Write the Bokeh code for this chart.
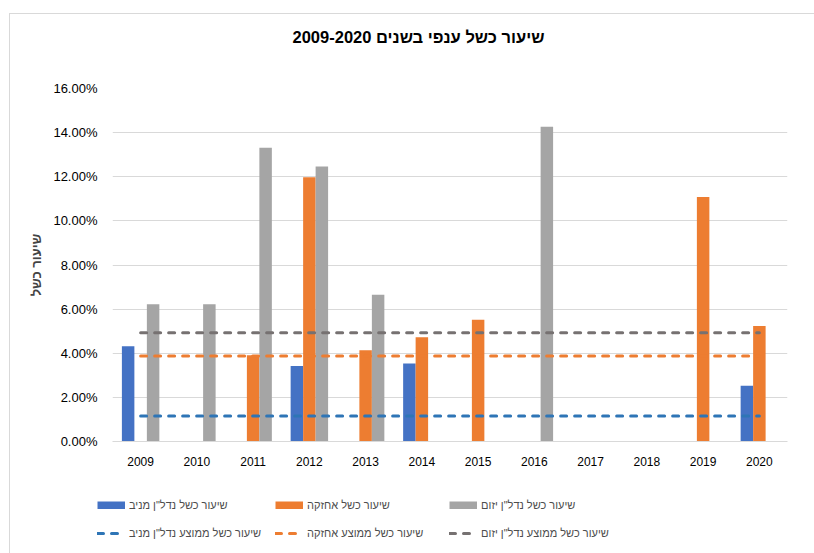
from bokeh.plotting import figure
from bokeh.layouts import column
from bokeh.models import (ColumnDataSource, Range1d, FixedTicker, Legend, LegendItem,
                          Label, PrintfTickFormatter)
from bokeh.embed import file_html
from bokeh.resources import INLINE

# Failure rates by sector, percent
years = ["2009", "2010", "2011", "2012", "2013", "2014",
         "2015", "2016", "2017", "2018", "2019", "2020"]
income_rate = [4.32, None, None, 3.42, None, 3.54, None, None, None, None, None, 2.53]
holding_rate = [None, None, 3.91, 11.98, 4.14, 4.73, 5.52, None, None, None, 11.08, 5.24]
initiated_rate = [6.22, 6.22, 13.32, 12.47, 6.65, None, None, 14.27, None, None, None, None]

avg_income = 1.16
avg_holding = 3.87
avg_initiated = 4.93

y_ticks = [0, 2, 4, 6, 8, 10, 12, 14, 16]

series_names = ['שיעור כשל נדל"ן מניב', 'שיעור כשל אחזקה', 'שיעור כשל נדל"ן יזום']
avg_names = ['שיעור כשל ממוצע נדל"ן מניב', 'שיעור כשל ממוצע אחזקה', 'שיעור כשל ממוצע נדל"ן יזום']
title_text = "שיעור כשל ענפי בשנים 2009-2020"
y_title = "שיעור כשל"

BAR_COLORS = ["#4472C4", "#ED7D31", "#A5A5A5"]
LINE_COLORS = ["#2E75B6", "#ED7D31", "#767171"]
HEB_FONT = "Liberation Sans"
NUM_FONT = "Liberation Sans"
DASH = "6 8"

# page geometry (window pixels); the chart box starts at (OX, OY)
OX, OY = 10, 14
W = 814 - OX
H_TOTAL = 553 - OY
H_HEAD = 60                     # title strip
TOP_PAD = 88 - OY - H_HEAD      # space between title strip and plot frame
FRAME_H = 441 - 88
BOTTOM_PAD = 40                 # x-axis labels
H_MAIN = TOP_PAD + FRAME_H + BOTTOM_PAD
H_LEG = H_TOTAL - H_HEAD - H_MAIN
FL, FR = 112 - OX, 787 - OX

# ---- title strip
head = figure(width=W, height=H_HEAD, output_backend="svg", toolbar_location=None,
              x_axis_location=None, y_axis_location=None,
              x_range=Range1d(0, 1), y_range=Range1d(0, 1),
              min_border=0, min_border_left=0, min_border_right=0,
              min_border_top=0, min_border_bottom=0)
head.frame_align = False
head.outline_line_color = None
head.xgrid.visible = False
head.ygrid.visible = False
head.add_layout(Label(x=292 - OX, y=H_HEAD - (36 - OY), x_units="screen", y_units="screen",
                      text=title_text, text_align="left", text_baseline="middle",
                      text_font=HEB_FONT, text_font_style="bold", text_font_size="16.5px",
                      text_color="#000000"))

# ---- main chart
p = figure(width=W, height=H_MAIN, output_backend="svg", toolbar_location=None,
           x_range=Range1d(-0.5, len(years) - 0.5), y_range=Range1d(0, 16),
           min_border_left=FL, min_border_right=W - FR,
           min_border_top=TOP_PAD, min_border_bottom=BOTTOM_PAD)
p.outline_line_color = None
p.background_fill_color = "white"
p.border_fill_color = "white"

bar_w = 0.222
offsets = [-bar_w, 0.0, bar_w]
bar_sources = []
for vals, off, color in zip([income_rate, holding_rate, initiated_rate], offsets, BAR_COLORS):
    xs = [i + off for i, v in enumerate(vals) if v is not None]
    tops = [v for v in vals if v is not None]
    src = ColumnDataSource(dict(x=xs, top=tops))
    bar_sources.append(src)
    p.vbar(x="x", top="top", bottom=0, width=bar_w, source=src,
           fill_color=color, line_color=None)

avg_sources = []
for avg, color in zip([avg_income, avg_holding, avg_initiated], LINE_COLORS):
    src = ColumnDataSource(dict(x=[0, len(years) - 1], y=[avg, avg]))
    avg_sources.append(src)
    p.line(x="x", y="y", source=src, line_color=color, line_width=3,
           line_dash=DASH, line_cap="round")

p.xaxis.ticker = FixedTicker(ticks=list(range(len(years))))
p.xaxis.major_label_overrides = {i: y for i, y in enumerate(years)}
p.xaxis.axis_line_color = "#D9D9D9"
p.xaxis.major_tick_line_color = None
p.xaxis.minor_tick_line_color = None
p.xaxis.major_label_standoff = 9
p.xaxis.major_label_text_font = NUM_FONT
p.xaxis.major_label_text_font_size = "12px"
p.xaxis.major_label_text_color = "#000000"

p.yaxis.ticker = FixedTicker(ticks=y_ticks)
p.yaxis.formatter = PrintfTickFormatter(format="%.2f%%")
p.yaxis.axis_line_color = None
p.yaxis.major_tick_line_color = None
p.yaxis.minor_tick_line_color = None
p.yaxis.major_label_standoff = 9
p.yaxis.major_label_text_font = NUM_FONT
p.yaxis.major_label_text_font_size = "13px"
p.yaxis.major_label_text_color = "#000000"
p.yaxis.axis_label = y_title
p.yaxis.axis_label_text_font = HEB_FONT
p.yaxis.axis_label_text_font_style = "bold"
p.yaxis.axis_label_text_font_size = "13px"
p.yaxis.axis_label_standoff = 6

p.xgrid.grid_line_color = None
p.ygrid.ticker = FixedTicker(ticks=y_ticks)
p.ygrid.grid_line_color = "#D9D9D9"
p.ygrid.grid_line_width = 1

# ---- legend strip: key renderers share the series data, kept outside the strip's view
lg = figure(width=W, height=H_LEG, output_backend="svg", toolbar_location=None,
            x_axis_location=None, y_axis_location=None,
            x_range=Range1d(100, 101), y_range=Range1d(100, 101),
            min_border=0, min_border_left=0, min_border_right=0,
            min_border_top=0, min_border_bottom=0)
lg.frame_align = False
lg.outline_line_color = None
lg.xgrid.visible = False
lg.ygrid.visible = False

bar_keys = [lg.line(x="x", y="top", source=s, line_color=c, line_width=8, line_cap="butt")
            for s, c in zip(bar_sources, BAR_COLORS)]
avg_keys = [lg.line(x="x", y="y", source=s, line_color=c, line_width=3,
                    line_dash=DASH, line_cap="round")
            for s, c in zip(avg_sources, LINE_COLORS)]

items = [LegendItem(label=n, renderers=[r]) for n, r in zip(series_names, bar_keys)]
items += [LegendItem(label=n, renderers=[r]) for n, r in zip(avg_names, avg_keys)]
leg_top = 498 - (OY + H_HEAD + H_MAIN)
legend = Legend(items=items, location=(97 - OX, H_LEG - leg_top - 42),
                orientation="horizontal", ncols=3,
                glyph_width=28, glyph_height=8, label_standoff=4, label_height=14,
                label_width=128, spacing=14, padding=0, margin=0,
                border_line_alpha=0, background_fill_alpha=0,
                label_text_font=HEB_FONT, label_text_font_size="11px",
                label_text_color="#4D4D4D")
lg.add_layout(legend)

page = column(head, p, lg, spacing=0)
page.styles = {"margin-left": f"{OX - 1}px", "margin-top": f"{OY - 1}px",
               "border-left": "1px solid #D9D9D9", "border-top": "1px solid #D9D9D9"}

open("out.html", "w").write(file_html(page, INLINE))
